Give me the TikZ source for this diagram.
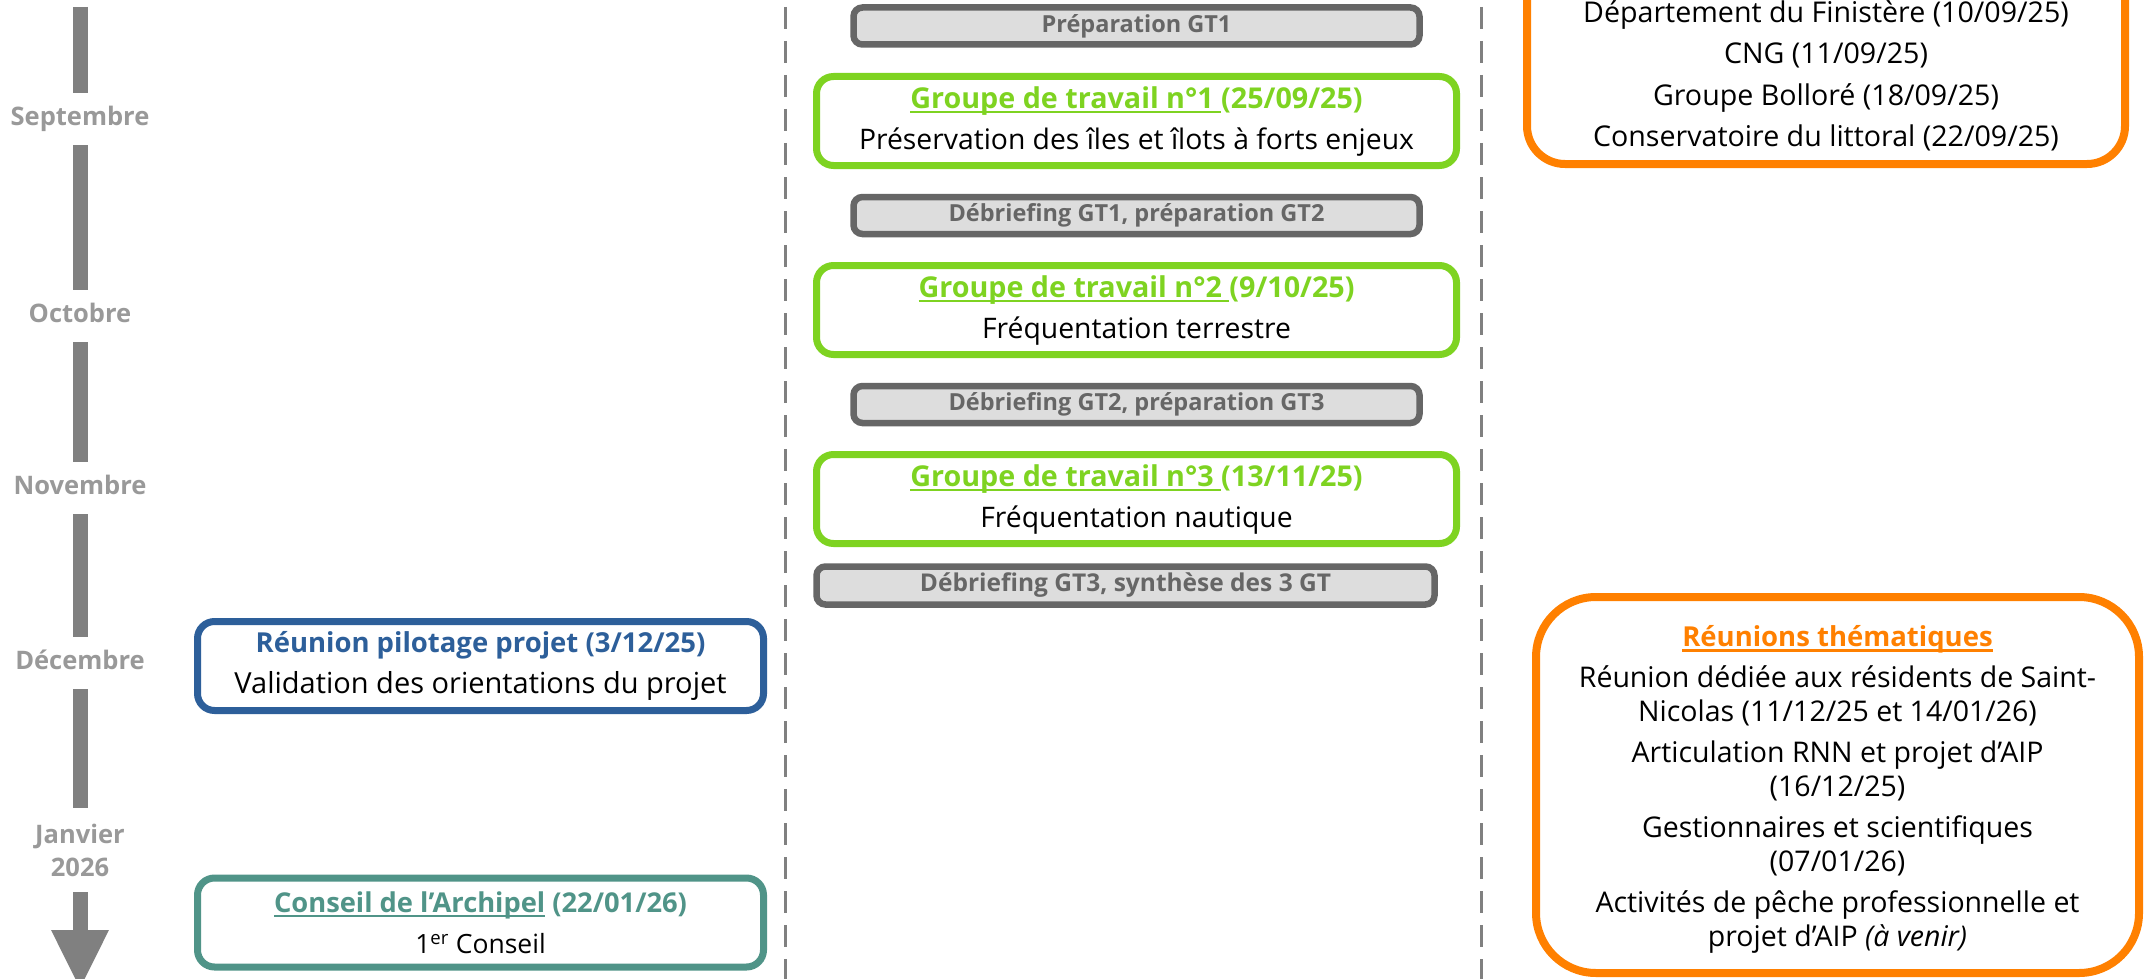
\documentclass[tikz,border=0pt]{standalone}
\usepackage{fontspec}
\setmainfont{Open Sans}
\newcommand{\myul}[1]{\setbox0\hbox{#1}\rlap{\rule[-5pt]{\wd0}{2.2pt}}\box0\relax}
\newcommand{\fsz}[2]{\fontsize{#1}{#2}\selectfont}
\usetikzlibrary{arrows.meta}
\definecolor{cgreen}{RGB}{126,211,33}
\definecolor{cblue}{RGB}{45,95,154}
\definecolor{cteal}{RGB}{80,148,136}
\definecolor{corange}{RGB}{255,128,0}
\definecolor{cgfill}{RGB}{221,221,221}
\definecolor{cgline}{RGB}{102,102,102}
\definecolor{cmonth}{RGB}{153,153,153}
\definecolor{cbar}{RGB}{128,128,128}
\tikzset{
  greenbox/.style={draw=cgreen, line width=7pt, rounded corners=17pt, fill=white,
    minimum width=640pt, minimum height=89pt, align=center, inner sep=0pt, font=\fsz{28.3}{41}},
  sidebox/.style={line width=7pt, rounded corners=17pt, fill=white,
    minimum width=566pt, minimum height=89pt, align=center, inner sep=0pt},
  graybox/.style={draw=cgline, fill=cgfill, line width=6.5pt, rounded corners=9pt,
    minimum width=566pt, minimum height=37pt, inner sep=0pt, text=cgline,
    font=\bfseries\fsz{23.5}{28}},
  orangeframe/.style={draw=corange, line width=8pt},
  orangetext/.style={align=center, inner sep=0pt},
  monthlab/.style={font=\bfseries\fsz{25.5}{33}, text=cmonth, inner sep=0pt,
    minimum height=52pt, align=center},
  monthone/.style={monthlab, text height=18pt, text depth=6pt},
  tlbar/.style={draw=cbar, line width=15pt},
  sep/.style={draw=cbar, line width=3pt, dash pattern=on 22pt off 12pt, dash phase=-7pt}
}
\newcommand{\gtt}[2]{\textcolor{cgreen}{\bfseries\fsz{28.7}{41}\myul{Groupe de travail n°#1\ }(#2)}}
\begin{document}
\begin{tikzpicture}[x=1pt,y=-1pt]
\clip (0,0) rectangle (2149,979);
\fill[white] (0,0) rectangle (2149,979);

% separators
\coordinate (s1a) at (785,0); \coordinate (s1b) at (785,979);
\coordinate (s2a) at (1481,0); \coordinate (s2b) at (1481,979);
\draw[sep] (s1a) -- (s1b);
\draw[sep] (s2a) -- (s2b);

% timeline
\node[monthone] (sept) at (80,119) {Septembre};
\node[monthone] (oct) at (80,316) {Octobre};
\node[monthone] (nov) at (80,488) {Novembre};
\node[monthone] (dec) at (80,663) {Décembre};
\node[monthlab, minimum height=84pt] (jan) at (80,850) {Janvier\\2026};
\coordinate (tl0) at (80,7);
\coordinate (tlend) at (80,990);
\draw[tlbar] (tl0) -- (sept);
\draw[tlbar] (sept) -- (oct);
\draw[tlbar] (oct) -- (nov);
\draw[tlbar] (nov) -- (dec);
\draw[tlbar] (dec) -- (jan);
\draw[tlbar, -{Triangle[width=53pt,length=60pt]}] (jan) -- (tlend);

% centre column
\node[graybox] (prep) at (1136.5,26) {Préparation GT1};
\node[greenbox] (gt1) at (1136.5,121) {\gtt{1}{25/09/25}\\Préservation des îles et îlots à forts enjeux};
\node[graybox] (deb1) at (1136.5,215.5) {Débriefing GT1, préparation GT2};
\node[greenbox] (gt2) at (1136.5,310) {\gtt{2}{9/10/25}\\Fréquentation terrestre};
\node[graybox] (deb2) at (1136.5,404.5) {Débriefing GT2, préparation GT3};
\node[greenbox] (gt3) at (1136.5,499) {\gtt{3}{13/11/25}\\Fréquentation nautique};
\node[graybox, minimum width=618pt, minimum height=38pt, font=\bfseries\fsz{24.5}{28}] (deb3) at (1125.5,585.5) {Débriefing GT3, synthèse des 3 GT};

% left column
\node[sidebox, draw=cblue, font=\fsz{29}{41}] (pil) at (480.5,666) {\textcolor{cblue}{\bfseries\fsz{27.5}{41}Réunion pilotage projet (3/12/25)}\\Validation des orientations du projet};
\node[sidebox, draw=cteal, font=\fsz{26.5}{41}] (cons) at (480.5,922.5) {\textcolor{cteal}{\bfseries\fsz{27.3}{41}\myul{Conseil de l’Archipel} (22/01/26)}\\1\textsuperscript{er} Conseil};

% right column
\draw[orangeframe, rounded corners=38pt] (1527,-120) rectangle (2125,164);
\node[orangetext, font=\fsz{28.6}{41.5}] (rtop) at (1826,76) {Département du Finistère (10/09/25)\\CNG (11/09/25)\\Groupe Bolloré (18/09/25)\\Conservatoire du littoral (22/09/25)};
\node[draw=corange, line width=8pt, rounded corners=60pt, fill=white, minimum width=603pt, minimum height=376pt, inner sep=0pt] (rbot) at (1837.5,785) {};
\node[orangetext, font=\fsz{28.5}{34}] (rbottxt) at (1837.5,789.5)
{\textcolor{corange}{\bfseries\fsz{27.5}{34}\myul{Réunions thématiques}}\\[7pt]
Réunion dédiée aux résidents de Saint-\\Nicolas (11/12/25 et 14/01/26)\\[7pt]
Articulation RNN et projet d’AIP\\(16/12/25)\\[7pt]
Gestionnaires et scientifiques\\(07/01/26)\\[7pt]
Activités de pêche professionnelle et\\projet d’AIP \textit{(à venir)}};
\end{tikzpicture}
\end{document}
